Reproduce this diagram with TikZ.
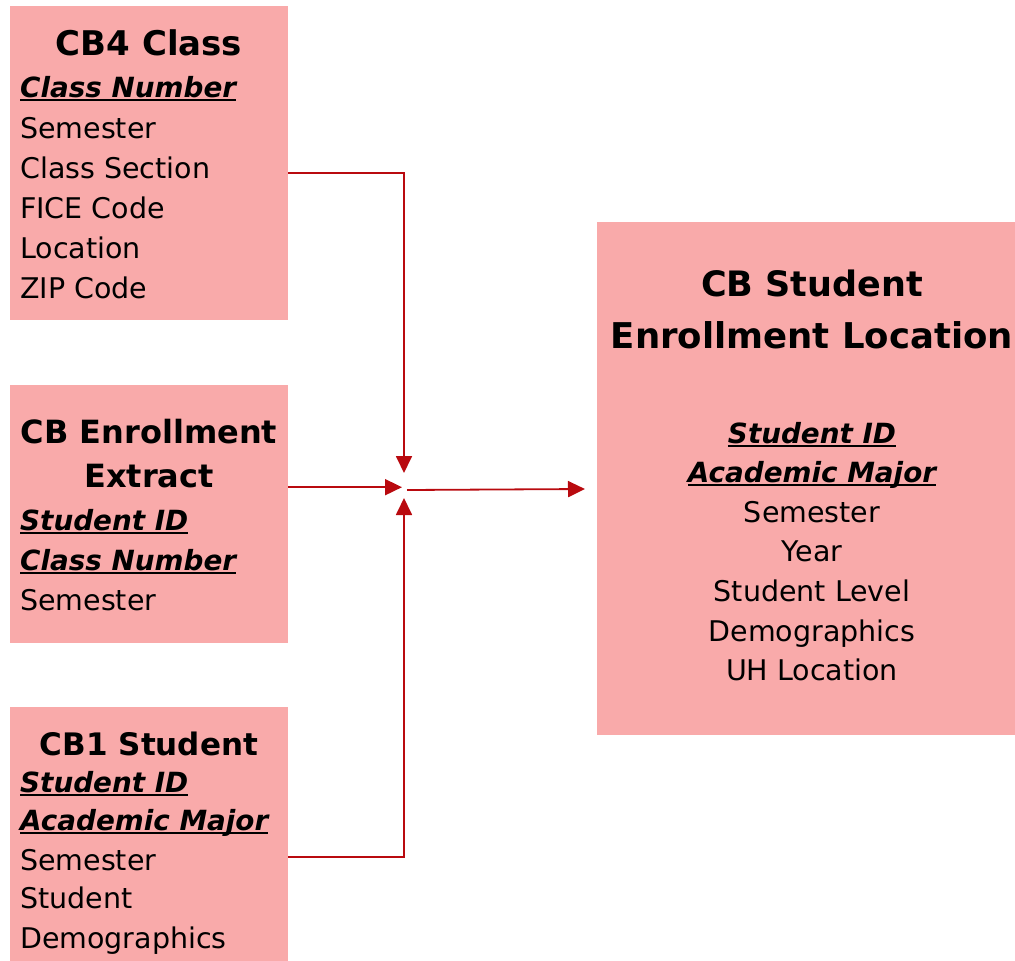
\documentclass[tikz,border=0pt]{standalone}
\usepackage{fontspec}
\setmainfont{DejaVu Sans}
\usetikzlibrary{arrows.meta}
\definecolor{boxfill}{RGB}{249,170,170}
\definecolor{arrred}{RGB}{185,10,15}
\newcommand\keyul[1]{\setbox0\hbox{\fontsize{27.8}{34}\selectfont\bfseries\itshape #1}\rlap{\rule[-3.6pt]{\wd0}{1.8pt}}\box0}
\tikzset{
  tablebox/.style={fill=boxfill, draw=none, anchor=north west, inner sep=0pt},
  ttl/.style={inner sep=0pt, anchor=base, font=\bfseries\fontsize{32}{38}\selectfont},
  fld/.style={inner sep=0pt, anchor=base west, font=\fontsize{28.5}{34}\selectfont},
  fldc/.style={inner sep=0pt, anchor=base, font=\fontsize{28.5}{34}\selectfont},
  arr/.style={draw=arrred, line width=1.8pt, -{Triangle[length=17pt,width=16pt]}}
}
\begin{document}
\begin{tikzpicture}[x=1pt,y=-1pt]
\useasboundingbox (0,0) rectangle (1015,961);
% boxes
\node[tablebox, minimum width=278pt, minimum height=314pt] (b1) at (10,6) {};
\node[tablebox, minimum width=278pt, minimum height=258pt] (b2) at (10,385) {};
\node[tablebox, minimum width=278pt, minimum height=254pt] (b3) at (10,707) {};
\node[tablebox, minimum width=418pt, minimum height=513pt] (b4) at (597,222) {};
% box 1
\node[ttl, font=\bfseries\fontsize{34}{40}\selectfont] (b1t) at (149,55) {CB4 Class};
\node[fld] (b1a) at (20,97) {\keyul{Class Number}};
\node[fld] (b1b) at (20,138) {Semester};
\node[fld] (b1c) at (20,178) {Class Section};
\node[fld] (b1d) at (20,218) {FICE Code};
\node[fld] (b1e) at (20,258) {Location};
\node[fld] (b1f) at (20,298) {ZIP Code};
% box 2
\node[ttl] (b2t) at (149,443) {CB Enrollment};
\node[ttl] (b2u) at (149,487) {Extract};
\node[fld] (b2a) at (20,530) {\keyul{Student ID}};
\node[fld] (b2b) at (20,570) {\keyul{Class Number}};
\node[fld] (b2c) at (20,610) {Semester};
% box 3
\node[ttl, font=\bfseries\fontsize{31}{38}\selectfont] (b3t) at (149,755) {CB1 Student};
\node[fld] (b3a) at (20,792) {\keyul{Student ID}};
\node[fld] (b3b) at (20,830) {\keyul{Academic Major}};
\node[fld] (b3c) at (20,870) {Semester};
\node[fld] (b3d) at (20,908) {Student};
\node[fld] (b3e) at (20,948) {Demographics};
% box 4
\node[ttl, font=\bfseries\fontsize{35}{40}\selectfont] (b4t) at (812,296) {CB Student};
\node[ttl, font=\bfseries\fontsize{35.5}{40}\selectfont] (b4u) at (812,348) {Enrollment Location};
\node[fldc] (b4a) at (812,443) {\keyul{Student ID}};
\node[fldc] (b4b) at (812,482) {\keyul{Academic Major}};
\node[fldc] (b4c) at (812,522) {Semester};
\node[fldc] (b4d) at (812,561) {Year};
\node[fldc] (b4e) at (812,601) {Student Level};
\node[fldc] (b4f) at (812,641) {Demographics};
\node[fldc] (b4g) at (812,680) {UH Location};
% connectors
\coordinate (J) at (404,488);
\coordinate (s1) at ([yshift=-10pt]b1.east);
\coordinate (s2) at ([yshift=27pt]b2.east);
\coordinate (s3) at ([yshift=-23pt]b3.east);
\draw[arr] (s1) -| ([yshift=15pt]J);
\draw[arr] (s2) -- ([xshift=-2pt]s2 -| J);
\draw[arr] (s3) -| ([yshift=-10pt]J);
\draw[arr] ([xshift=3pt,yshift=-2pt]J) -- ([xshift=-12pt,yshift=-1pt]J -| b4.west);
\end{tikzpicture}
\end{document}
